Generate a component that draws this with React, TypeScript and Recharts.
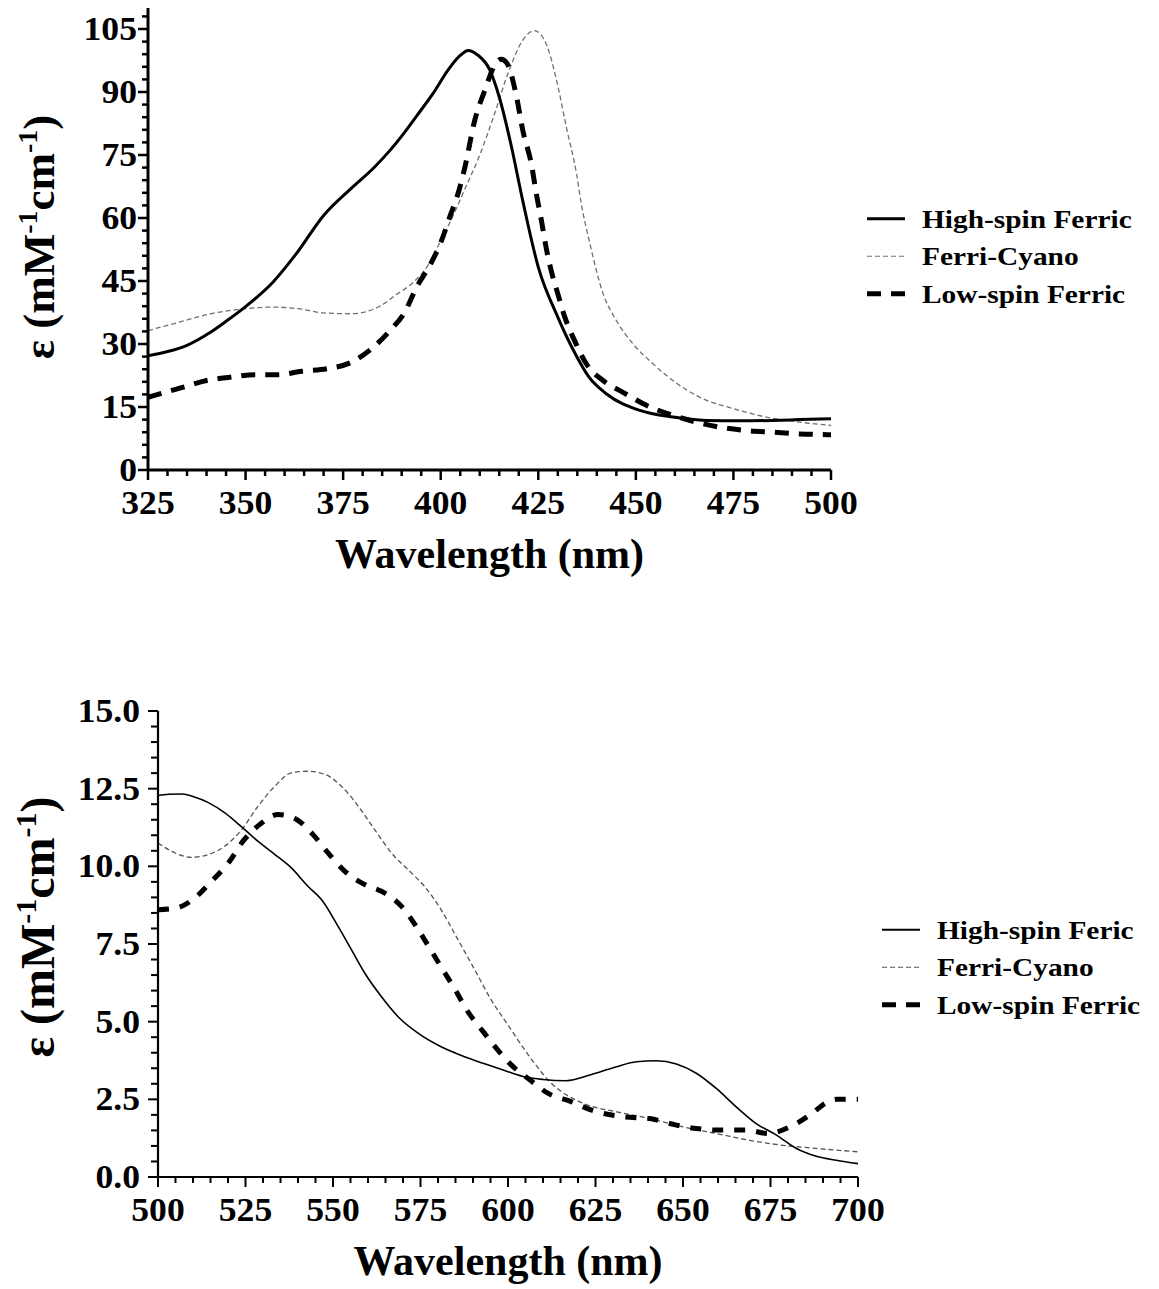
import React from 'react';
import { LineChart, Line, XAxis, YAxis, Legend } from 'recharts';

const FONT = "'Liberation Serif', 'Times New Roman', Times, serif";

// ---------------- Top panel (325–500 nm) ----------------
const topHighSpinX = [325, 330, 335, 341, 345, 350, 357, 363, 370, 377, 383, 387, 390, 394, 398, 402, 405, 407, 409.5, 412.5, 415, 418, 421, 425, 430, 434, 438, 442.5, 451, 459.5, 468, 477, 485, 492, 500];
const topHighSpinY = [27.2, 28.2, 29.7, 32.8, 35.4, 38.9, 44.7, 51.5, 60.6, 67, 72.1, 76.1, 79.5, 84.5, 89.6, 95.4, 98.7, 99.9, 98.8, 95.4, 88.8, 77.5, 64.2, 48.3, 36.4, 28.5, 22.1, 18.1, 14.2, 12.6, 11.8, 11.7, 11.8, 12, 12.2];

const topFerriCyanoX = [325, 333, 341, 350, 357, 363.5, 370, 377, 384, 389, 392.5, 397, 400, 403, 406, 410, 413.5, 417.5, 421, 424, 427, 429.7, 432.2, 434.8, 436, 438.2, 441.6, 445, 449.3, 454.4, 459.5, 466.4, 475, 483.4, 492, 500];
const topFerriCyanoY = [33.2, 35.2, 37.2, 38.4, 38.8, 38.4, 37.4, 37.2, 38.8, 42, 44.3, 49.1, 54.6, 60.2, 66.5, 75, 84, 95.1, 102.3, 104.6, 101.5, 92.7, 81.6, 70.5, 63.5, 54, 42, 35.6, 30, 25.3, 21.3, 17.3, 14.6, 12.6, 11.4, 10.6];

const topLowSpinX = [325, 333.6, 340, 346, 352.4, 358.3, 364.4, 370.8, 377.2, 382.3, 387, 390.8, 393.8, 397.2, 400.2, 402.3, 404.5, 406.2, 408.7, 411.3, 413.9, 415.5, 417, 419.4, 421, 423.3, 424.5, 425.8, 427, 428.3, 430, 431.8, 434.3, 437.3, 441.6, 446.7, 452.7, 459.5, 465.5, 471.5, 478.3, 485.1, 491.9, 500];
const topLowSpinY = [17.3, 19.6, 21.3, 22.1, 22.7, 22.7, 23.5, 24.1, 25.7, 28.9, 33.2, 37.6, 43.5, 48.7, 54.6, 60.2, 66, 72.1, 83.2, 90.4, 96.5, 97.8, 96.8, 89, 81, 72.5, 65.8, 59.4, 53, 47.5, 42, 36.4, 30.8, 25.3, 21.3, 18.5, 15.4, 13, 11.4, 10.2, 9.4, 9, 8.6, 8.4];

const topXMajor = [325, 350, 375, 400, 425, 450, 475, 500];
const topYMajor = [0, 15, 30, 45, 60, 75, 90, 105];

// ---------------- Bottom panel (500–700 nm) ----------------
const botHighSpinX = [500, 503, 507, 510, 514.4, 519.1, 523.9, 528.6, 533.4, 538.1, 542.9, 546.7, 551.5, 555.3, 559.1, 563.8, 568.6, 574.3, 580.9, 587.6, 592.9, 600, 605, 610, 616.7, 623.4, 631, 636.7, 642.4, 648.1, 653.8, 659.5, 665.2, 670.9, 676.7, 682.4, 688.1, 693.8, 700];
const botHighSpinY = [12.28, 12.32, 12.33, 12.25, 12.05, 11.72, 11.27, 10.8, 10.38, 9.95, 9.35, 8.93, 8.06, 7.31, 6.56, 5.81, 5.16, 4.63, 4.19, 3.87, 3.66, 3.39, 3.22, 3.14, 3.1, 3.28, 3.55, 3.71, 3.74, 3.64, 3.34, 2.85, 2.26, 1.72, 1.35, 0.92, 0.67, 0.54, 0.43];

const botFerriCyanoX = [500, 504.9, 509.6, 514.4, 519.1, 523.9, 528.6, 533.4, 538.1, 542.9, 547.7, 552.4, 557.2, 561.9, 566.7, 572.4, 576.2, 580.9, 585.7, 590.5, 595.2, 600, 606, 612, 621.5, 631, 640.5, 650, 659.5, 669, 678.5, 688, 700];
const botFerriCyanoY = [10.75, 10.43, 10.29, 10.38, 10.65, 11.18, 11.94, 12.58, 13.01, 13.06, 12.96, 12.58, 11.94, 11.18, 10.43, 9.79, 9.35, 8.6, 7.64, 6.67, 5.7, 4.89, 3.9, 3.06, 2.37, 2.1, 1.88, 1.61, 1.4, 1.18, 1.02, 0.92, 0.81];

const botLowSpinX = [500, 505.3, 510.5, 515.3, 520.1, 524.3, 529.1, 534.3, 539.6, 544.3, 548.6, 553.4, 559.1, 564.8, 570, 573.8, 577.6, 581.4, 584.8, 588.2, 592.9, 596.7, 601, 606.3, 611.5, 618.2, 623.9, 632.9, 640.5, 648.1, 653.8, 660.5, 668.1, 674.3, 680.5, 686.2, 691.4, 694, 700];
const botLowSpinY = [8.6, 8.66, 8.98, 9.52, 10.11, 10.81, 11.35, 11.67, 11.51, 11.02, 10.43, 9.84, 9.41, 9.14, 8.66, 8.06, 7.37, 6.67, 6.05, 5.38, 4.68, 4.14, 3.6, 3.12, 2.69, 2.42, 2.15, 1.94, 1.88, 1.67, 1.56, 1.51, 1.51, 1.4, 1.61, 1.99, 2.42, 2.5, 2.5];

const botXMajor = [500, 525, 550, 575, 600, 625, 650, 675, 700];
const botYMajor = [0, 2.5, 5, 7.5, 10, 12.5, 15];

const topNames = ['High-spin Ferric', 'Ferri-Cyano', 'Low-spin Ferric'];
const botNames = ['High-spin Feric', 'Ferri-Cyano', 'Low-spin Ferric'];

// ---------------- helpers ----------------
const range = (a: number, b: number, s: number) => {
  const out: number[] = [];
  for (let i = 0; a + i * s <= b + 1e-9; i++) out.push(+(a + i * s).toFixed(4));
  return out;
};
const zip = (xs: number[], ys: number[]) => xs.map((x, i) => ({ x, y: ys[i] }));

const topHS = zip(topHighSpinX, topHighSpinY);
const topFC = zip(topFerriCyanoX, topFerriCyanoY);
const topLS = zip(topLowSpinX, topLowSpinY);
const botHS = zip(botHighSpinX, botHighSpinY);
const botFC = zip(botFerriCyanoX, botFerriCyanoY);
const botLS = zip(botLowSpinX, botLowSpinY);

type TickOpts = {
  axis: 'x' | 'y';
  majors: number[];
  majorLen: number;
  minorLen: number;
  sw: number;
  gap: number;
  fmt: (v: number) => string;
};

const TICK_FS = 33;
const TICK_SX = 1.08;

const makeTick = (o: TickOpts) => (props: any) => {
  const { x, y, payload } = props;
  const v = payload.value;
  const major = o.majors.some((m) => Math.abs(m - v) < 1e-6);
  const len = major ? o.majorLen : o.minorLen;
  if (o.axis === 'x') {
    return (
      <g>
        <line x1={x} y1={y} x2={x} y2={y + len} stroke="#000" strokeWidth={o.sw} />
        {major && (
          <g transform={`translate(${x}, ${y + o.gap}) scale(${TICK_SX}, 1)`}>
            <text x={0} y={0} textAnchor="middle" fontFamily={FONT} fontWeight="bold" fontSize={TICK_FS} fill="#000">
              {o.fmt(v)}
            </text>
          </g>
        )}
      </g>
    );
  }
  return (
    <g>
      <line x1={x} y1={y} x2={x - len} y2={y} stroke="#000" strokeWidth={o.sw} />
      {major && (
        <g transform={`translate(${x - o.gap}, ${y + 11}) scale(${TICK_SX}, 1)`}>
          <text x={0} y={0} textAnchor="end" fontFamily={FONT} fontWeight="bold" fontSize={TICK_FS} fill="#000">
            {o.fmt(v)}
          </text>
        </g>
      )}
    </g>
  );
};

const xTitle = (offset: number) => (props: any) => {
  const vb = props.viewBox || {};
  const cx = (vb.x ?? 0) + (vb.width ?? 0) / 2;
  const y = (vb.y ?? 0) + offset;
  return (
    <text x={cx} y={y} textAnchor="middle" fontFamily={FONT} fontWeight="bold" fontSize={42} fill="#000">
      Wavelength (nm)
    </text>
  );
};

const yTitle = (bx: number, shift: number, size: number) => (props: any) => {
  const vb = props.viewBox || {};
  const cy = (vb.y ?? 0) + (vb.height ?? 0) / 2 + shift;
  const sup = Math.round(size * 0.62);
  return (
    <text
      x={bx}
      y={cy}
      transform={`rotate(-90, ${bx}, ${cy})`}
      textAnchor="middle"
      fontFamily={FONT}
      fontWeight="bold"
      fontSize={size}
      fill="#000"
    >
      <tspan>ε (mM</tspan>
      <tspan dy={-size * 0.38} fontSize={sup}>-1</tspan>
      <tspan dy={size * 0.38}>cm</tspan>
      <tspan dy={-size * 0.38} fontSize={sup}>-1</tspan>
      <tspan dy={size * 0.38}>)</tspan>
    </text>
  );
};

type Style = { stroke: string; width: number; dash?: string; lw: number; ldash?: string };

const makeLegend = (names: string[], styles: Style[]) => () => {
  const rowH = 37.5;
  const sampleW = 38;
  const gap = 17;
  return (
    <svg width={300} height={rowH * names.length} style={{ display: 'block', overflow: 'visible' }}>
      {names.map((name, i) => {
        const cy = rowH * i + rowH / 2;
        const s = styles[i];
        return (
          <g key={name}>
            <line x1={0} x2={sampleW} y1={cy} y2={cy} stroke={s.stroke} strokeWidth={s.lw} strokeDasharray={s.ldash} />
            <g transform={`translate(${sampleW + gap}, ${cy}) scale(1.13, 1)`}>
              <text x={0} y={0} dy="0.34em" fontFamily={FONT} fontWeight="bold" fontSize={26} fill="#000">
                {name}
              </text>
            </g>
          </g>
        );
      })}
    </svg>
  );
};

const topStyles: Style[] = [
  { stroke: '#000', width: 3, lw: 3 },
  { stroke: '#707070', width: 1.3, dash: '5 3', lw: 1.2, ldash: '5 3' },
  { stroke: '#000', width: 5, dash: '14 10', lw: 5, ldash: '14 10' },
];
const botStyles: Style[] = [
  { stroke: '#000', width: 1.6, lw: 1.8 },
  { stroke: '#555', width: 1.3, dash: '5 3', lw: 1.2, ldash: '5 3' },
  { stroke: '#000', width: 5, dash: '11 11', lw: 5, ldash: '14 10' },
];

const topXTick = makeTick({ axis: 'x', majors: topXMajor, majorLen: 10, minorLen: 6, sw: 2.5, gap: 44, fmt: (v) => String(v) });
const topYTick = makeTick({ axis: 'y', majors: topYMajor, majorLen: 10, minorLen: 6, sw: 2.5, gap: 11, fmt: (v) => String(v) });
const botXTick = makeTick({ axis: 'x', majors: botXMajor, majorLen: 10, minorLen: 6, sw: 2, gap: 44, fmt: (v) => String(v) });
const botYTick = makeTick({ axis: 'y', majors: botYMajor, majorLen: 10, minorLen: 7, sw: 2, gap: 18, fmt: (v) => v.toFixed(1) });

export default function App() {
  return (
    <div style={{ position: 'absolute', left: 0, top: 0, width: 1159, height: 1289, background: '#fff' }}>
      <div style={{ position: 'absolute', left: 0, top: 0 }}>
        <LineChart width={1159} height={640} margin={{ top: 8, right: 328, bottom: 40, left: 0 }}>
          <XAxis
            dataKey="x"
            type="number"
            domain={[325, 500]}
            ticks={range(325, 500, 5)}
            interval={0}
            tickSize={0}
            tickMargin={0}
            tickLine={false}
            tick={topXTick}
            axisLine={{ stroke: '#000', strokeWidth: 3 }}
            height={130}
            allowDataOverflow
            label={xTitle(98)}
          />
          <XAxis xAxisId="top" orientation="top" type="number" domain={[325, 500]} height={0} tick={false} tickLine={false} axisLine={{ stroke: '#000', strokeWidth: 2.5 }} />
          <YAxis
            type="number"
            domain={[0, 110]}
            ticks={range(0, 108, 3)}
            interval={0}
            tickSize={0}
            tickMargin={0}
            tickLine={false}
            tick={topYTick}
            axisLine={{ stroke: '#000', strokeWidth: 3 }}
            width={148}
            allowDataOverflow
            label={yTitle(54, -2, 45)}
          />
          <YAxis yAxisId="right" orientation="right" type="number" domain={[0, 110]} width={0} tick={false} tickLine={false} axisLine={{ stroke: '#000', strokeWidth: 3 }} />
          <Line data={topFC} dataKey="y" name={topNames[1]} type="monotone" stroke={topStyles[1].stroke} strokeWidth={topStyles[1].width} strokeDasharray={topStyles[1].dash} dot={false} activeDot={false} isAnimationActive={false} />
          <Line data={topHS} dataKey="y" name={topNames[0]} type="monotone" stroke={topStyles[0].stroke} strokeWidth={topStyles[0].width} dot={false} activeDot={false} isAnimationActive={false} />
          <Line data={topLS} dataKey="y" name={topNames[2]} type="monotone" stroke={topStyles[2].stroke} strokeWidth={topStyles[2].width} strokeDasharray={topStyles[2].dash} dot={false} activeDot={false} isAnimationActive={false} />
          <Legend layout="vertical" align="center" verticalAlign="middle" wrapperStyle={{ left: 867, top: 200, width: 292 }} content={makeLegend(topNames, topStyles)} />
        </LineChart>
      </div>
      <div style={{ position: 'absolute', left: 0, top: 640 }}>
        <LineChart width={1159} height={649} margin={{ top: 71, right: 301, bottom: 2, left: 0 }}>
          <XAxis
            dataKey="x"
            type="number"
            domain={[500, 700]}
            ticks={range(500, 700, 5)}
            interval={0}
            tickSize={0}
            tickMargin={0}
            tickLine={false}
            tick={botXTick}
            axisLine={{ stroke: '#000', strokeWidth: 2.2 }}
            height={110}
            allowDataOverflow
            label={xTitle(98)}
          />
          <XAxis xAxisId="top" orientation="top" type="number" domain={[500, 700]} height={0} tick={false} tickLine={false} axisLine={{ stroke: '#000', strokeWidth: 1.6 }} />
          <YAxis
            type="number"
            domain={[0, 15]}
            ticks={range(0, 15, 0.5)}
            interval={0}
            tickSize={0}
            tickMargin={0}
            tickLine={false}
            tick={botYTick}
            axisLine={{ stroke: '#000', strokeWidth: 2.2 }}
            width={158}
            allowDataOverflow
            label={yTitle(54, -17, 48)}
          />
          <YAxis yAxisId="right" orientation="right" type="number" domain={[0, 15]} width={0} tick={false} tickLine={false} axisLine={{ stroke: '#000', strokeWidth: 2.2 }} />
          <Line data={botFC} dataKey="y" name={botNames[1]} type="monotone" stroke={botStyles[1].stroke} strokeWidth={botStyles[1].width} strokeDasharray={botStyles[1].dash} dot={false} activeDot={false} isAnimationActive={false} />
          <Line data={botHS} dataKey="y" name={botNames[0]} type="monotone" stroke={botStyles[0].stroke} strokeWidth={botStyles[0].width} dot={false} activeDot={false} isAnimationActive={false} />
          <Line data={botLS} dataKey="y" name={botNames[2]} type="monotone" stroke={botStyles[2].stroke} strokeWidth={botStyles[2].width} strokeDasharray={botStyles[2].dash} dot={false} activeDot={false} isAnimationActive={false} />
          <Legend layout="vertical" align="center" verticalAlign="middle" wrapperStyle={{ left: 882, top: 271, width: 277 }} content={makeLegend(botNames, botStyles)} />
        </LineChart>
      </div>
    </div>
  );
}
